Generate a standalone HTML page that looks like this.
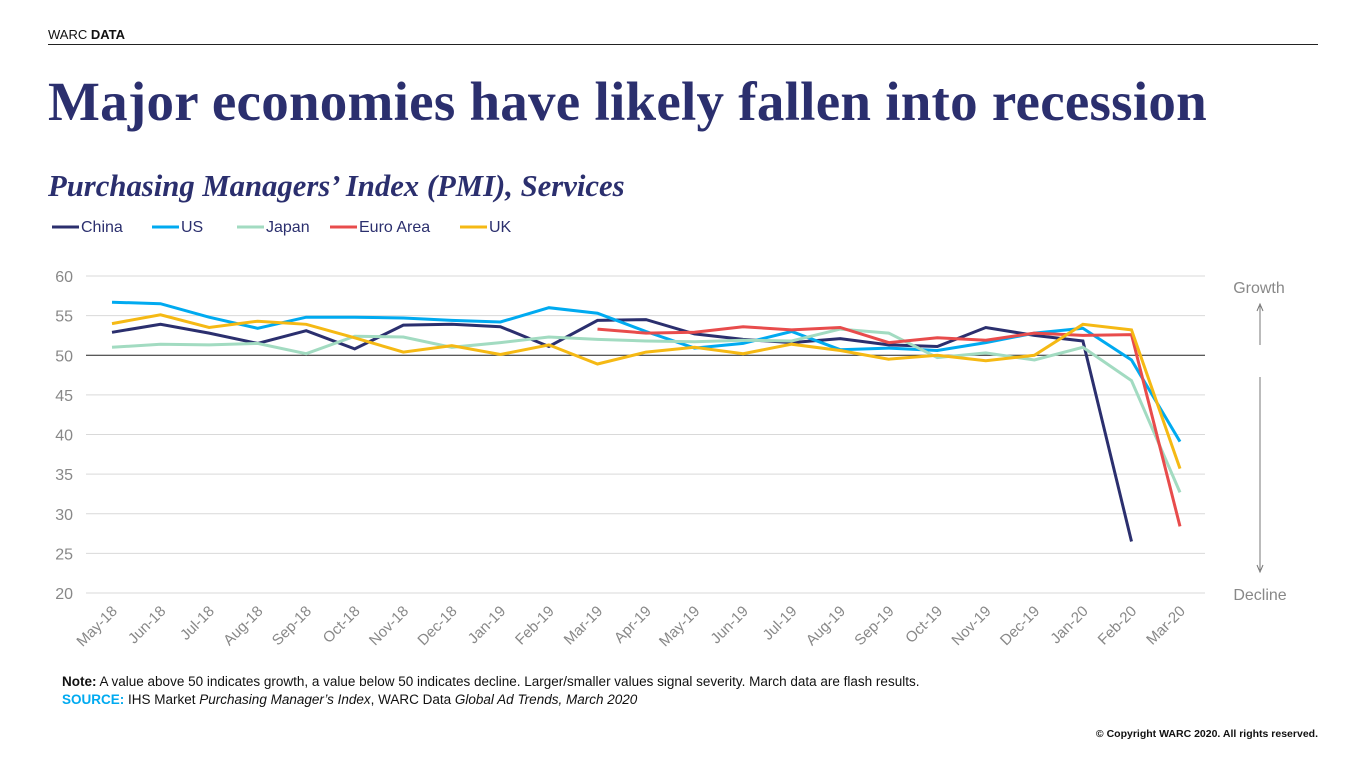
<!DOCTYPE html>
<html><head><meta charset="utf-8"><style>
body{margin:0;width:1365px;height:768px;background:#fff;font-family:"Liberation Sans",sans-serif;overflow:hidden;position:relative}
.abs{position:absolute}
</style></head><body>
<div class="abs" style="left:48px;top:27px;font-size:13px;color:#111">WARC <b>DATA</b></div>
<div class="abs" style="left:48px;top:44px;width:1270px;height:1px;background:#222"></div>
<div class="abs" style="left:48px;top:70px;font-family:'Liberation Serif',serif;font-weight:bold;font-size:55px;color:#2b2f6e;letter-spacing:0.25px;white-space:nowrap">Major economies have likely fallen into recession</div>
<div class="abs" style="left:48px;top:169px;font-family:'Liberation Serif',serif;font-style:italic;font-weight:bold;font-size:30.7px;color:#2b2f6e;white-space:nowrap">Purchasing Managers’ Index (PMI), Services</div>
<svg class="abs" style="left:0;top:0" width="1365" height="768" id="chart"></svg>
<div class="abs" style="left:62px;top:674px;font-size:13.5px;color:#111;white-space:nowrap"><b>Note:</b> A value above 50 indicates growth, a value below 50 indicates decline. Larger/smaller values signal severity. March data are flash results.</div>
<div class="abs" style="left:62px;top:692px;font-size:13.5px;color:#111;white-space:nowrap"><b style="color:#00aaf0">SOURCE:</b> IHS Market <i>Purchasing Manager’s Index</i>, WARC Data <i>Global Ad Trends, March 2020</i></div>
<div class="abs" style="right:47px;top:728px;font-size:10.5px;font-weight:bold;color:#111">© Copyright WARC 2020. All rights reserved.</div>
<script>
const categories=["May-18","Jun-18","Jul-18","Aug-18","Sep-18","Oct-18","Nov-18","Dec-18","Jan-19","Feb-19","Mar-19","Apr-19","May-19","Jun-19","Jul-19","Aug-19","Sep-19","Oct-19","Nov-19","Dec-19","Jan-20","Feb-20","Mar-20"];
const china=[52.9,53.9,52.8,51.5,53.1,50.8,53.8,53.9,53.6,51.1,54.4,54.5,52.7,52.0,51.6,52.1,51.3,51.1,53.5,52.5,51.8,26.5,null];
const us=[56.7,56.5,54.8,53.4,54.8,54.8,54.7,54.4,54.2,56.0,55.3,53.0,50.9,51.5,53.0,50.7,50.9,50.6,51.6,52.8,53.4,49.4,39.1];
const japan=[51.0,51.4,51.3,51.5,50.2,52.4,52.3,51.0,51.6,52.3,52.0,51.8,51.7,51.9,51.8,53.3,52.8,49.7,50.3,49.4,51.0,46.8,32.7];
const euro=[null,null,null,null,null,null,null,null,null,null,53.3,52.8,52.9,53.6,53.2,53.5,51.6,52.2,51.9,52.8,52.5,52.6,28.4];
const uk=[54.0,55.1,53.5,54.3,53.9,52.2,50.4,51.2,50.1,51.3,48.9,50.4,51.0,50.2,51.4,50.6,49.5,50.0,49.3,50.0,53.9,53.2,35.7];
const yTicks=[20,25,30,35,40,45,50,55,60];
const seriesNames=["China","US","Japan","Euro Area","UK"];
const seriesData=[china,us,japan,euro,uk];
const colors=["#2b2f6e","#00aaf0","#a2dbc1","#e84c4c","#f5b914"];
const svg=document.getElementById('chart');
const NS="http://www.w3.org/2000/svg";
const x=i=>112+i*(1180-112)/22;
const y=v=>593-(v-20)*(593-276)/40;
function mk(t,a){const e=document.createElementNS(NS,t);for(const k in a)e.setAttribute(k,a[k]);svg.appendChild(e);return e;}
yTicks.forEach(v=>{
  const g=mk('line',{x1:86,x2:1205,y1:y(v),y2:y(v),stroke:v===50?'#222':'#d9d9d9','stroke-width':1});
  
  
  const t=mk('text',{x:73,y:y(v)+6,'text-anchor':'end','font-size':16,fill:'#888','font-family':'Liberation Sans'});
  t.textContent=v;
  
  
});
categories.forEach((c,i)=>{
  const t=mk('text',{x:x(i)+6,y:612,'text-anchor':'end','font-size':15,fill:'#888','font-family':'Liberation Sans',transform:`rotate(-45 ${x(i)+6} 612)`});
  t.textContent=c;
  
  
});
seriesData.forEach((d,s)=>{
  let p='';d.forEach((v,i)=>{if(v!=null)p+=(p?'L':'M')+x(i).toFixed(1)+','+y(v).toFixed(1);});
  const l=mk('path',{d:p,fill:'none',stroke:colors[s],'stroke-width':3,'stroke-linejoin':'miter'});
  
  
});
const lx=[52,152,237,330,460];
seriesNames.forEach((n,s)=>{
  const l=mk('line',{x1:lx[s],x2:lx[s]+27,y1:227,y2:227,stroke:colors[s],'stroke-width':3});
  
  
  const t=mk('text',{x:lx[s]+29,y:232,'font-size':16,fill:'#2b2f6e','font-family':'Liberation Sans'});
  t.textContent=n;
  
  
});
const g1=mk('text',{x:1259,y:293,'text-anchor':'middle','font-size':16,fill:'#888','font-family':'Liberation Sans'});g1.textContent='Growth';


const d1=mk('text',{x:1260,y:600,'text-anchor':'middle','font-size':16,fill:'#888','font-family':'Liberation Sans'});d1.textContent='Decline';


const a1=mk('path',{d:'M1260,345V306M1257,311L1260,304L1263,311',stroke:'#777',fill:'none','stroke-width':1});


const a2=mk('path',{d:'M1260,377V570M1257,565L1260,572L1263,565',stroke:'#777',fill:'none','stroke-width':1});


</script>
</body></html>
